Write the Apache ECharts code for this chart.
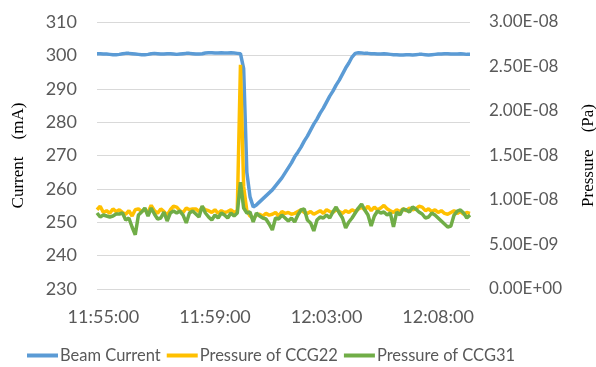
<!DOCTYPE html>
<html>
<head>
<meta charset="utf-8">
<script src="https://cdn.jsdelivr.net/npm/echarts@6/dist/echarts.min.js"></script>
<style>
  html, body { margin: 0; padding: 0; background: #fff; }
  #chart { width: 596px; height: 367px; }
</style>
</head>
<body>
<div id="chart"></div>
<script>
// X-axis tick labels and the sample index where each one sits
const timeLabels = ['11:55:00', '11:59:00', '12:03:00', '12:08:00'];
const labelIndex = [2, 37, 72, 107];

// Beam current (mA), left axis
const beamCurrent = [
  300.5, 300.5, 300.4, 300.4, 300.3, 300.2,
  300.2, 300.3, 300.5, 300.6, 300.6,
  300.5, 300.4, 300.3, 300.2, 300.2, 300.3,
  300.5, 300.6, 300.5, 300.4, 300.4, 300.5,
  300.5, 300.4, 300.3, 300.4, 300.5, 300.6, 300.6, 300.5,
  300.4, 300.4, 300.5, 300.7, 300.8, 300.8, 300.7, 300.7,
  300.8, 300.7, 300.7, 300.8, 300.7, 300.6, 300.5,
  296.0, 265.0, 257.6, 254.6,
  255.2, 256.1, 257.0, 257.9, 258.8, 259.7, 260.9, 262.1, 263.3, 264.8,
  266.3, 267.8, 269.6, 271.0, 272.5, 274.3, 275.8, 277.6, 279.4, 280.9,
  282.7, 284.2, 286.0, 287.8, 289.3, 291.1, 292.6, 294.4, 296.2, 297.7, 299.5,
  300.6,
  300.8, 300.7, 300.6, 300.6, 300.5, 300.5, 300.4, 300.4, 300.5, 300.4,
  300.3, 300.2, 300.2, 300.1, 300.1, 300.2, 300.2, 300.1, 300.2, 300.3,
  300.3, 300.2, 300.1, 300.2, 300.3, 300.4, 300.4, 300.5, 300.5, 300.4,
  300.4, 300.4, 300.5, 300.4, 300.3, 300.3
];

// Pressure of CCG22, in units of 1E-09 Pa, right axis
const ccg22 = [
  8.9, 9.3, 8.6, 8.8, 8.5, 9.0, 8.7, 8.9, 8.6, 8.4,
  8.8, 8.2, 8.9, 9.0, 8.7, 8.9, 8.6, 9.4, 8.8, 8.5,
  9.0, 8.7, 8.3, 8.9, 9.3, 9.2, 8.8, 8.6, 9.1, 8.9, 9.0,
  9.0, 8.7, 9.2, 8.9, 8.8, 8.6, 8.9, 8.5, 8.8, 8.6, 8.7, 8.9, 8.6, 8.8,
  25.2, 11.5, 8.8,
  8.2, 7.9, 8.3, 8.4, 8.2, 8.5, 8.3, 8.4, 8.6, 8.2, 8.7, 8.5,
  8.6, 8.4, 8.5, 8.7, 8.9, 8.6, 8.5, 8.7, 8.4, 8.6,
  8.8, 8.5, 8.9, 8.7, 8.6, 8.9, 8.7, 8.5, 8.8, 8.6,
  8.9, 8.7, 9.0, 9.2, 8.9, 9.3, 8.8, 9.2, 8.9, 9.1,
  9.4, 9.0, 8.8, 8.6, 8.9, 8.7, 9.0, 8.8, 9.1, 8.9,
  9.0, 9.3, 9.2, 8.8, 9.0, 8.7, 8.9, 8.6, 8.8, 8.5,
  8.4, 8.6, 8.8, 8.5, 8.7, 8.4, 8.6, 8.5
];

// Pressure of CCG31, in units of 1E-09 Pa, right axis
const ccg31 = [
  8.54, 8.09, 8.31, 8.20, 8.09, 8.20, 8.43, 8.43, 8.54, 7.75,
  7.98, 6.97, 6.10, 8.31, 8.65, 9.10, 8.20, 9.10, 8.43, 7.87,
  7.98, 8.65, 7.64, 8.54, 8.76, 8.54, 8.76, 8.31, 7.42, 8.54, 8.76,
  8.43, 8.09, 9.33, 8.54, 8.09, 7.75, 8.31, 7.98, 8.54, 8.31, 7.98, 8.54, 8.20, 8.54,
  12.0, 9.10, 8.54,
  8.65, 7.53, 8.54, 8.20, 7.98, 7.87, 7.30, 6.63, 7.98, 7.87, 8.31, 7.98,
  7.64, 7.98, 7.53, 8.31, 8.88, 8.99, 7.75, 7.42, 6.52, 7.75,
  8.09, 7.98, 8.31, 7.98, 8.65, 9.21, 8.54, 7.98, 6.85, 7.53,
  7.98, 8.54, 9.10, 9.55, 8.88, 8.31, 7.08, 8.20, 8.76, 8.54,
  8.65, 8.31, 8.54, 6.97, 8.65, 8.31, 8.99, 8.88, 8.65, 9.21,
  8.99, 8.65, 8.43, 7.98, 8.09, 8.54, 8.31, 7.98, 7.64, 7.30,
  6.97, 7.08, 8.31, 8.76, 8.88, 8.54, 7.98, 8.31
];

const categories = beamCurrent.map((_, i) => String(i));

function sci(v) {
  // v is in units of 1E-09 Pa
  if (v === 0) return '0.00E+00';
  const s = (v * 1e-9).toExponential(2).toUpperCase();
  const m = s.match(/^([\d.]+)E([+-])(\d+)$/);
  return m[1] + 'E' + m[2] + (m[3].length < 2 ? '0' + m[3] : m[3]);
}

const labelFont = { fontFamily: 'Lato', fontSize: 18, color: '#595959' };
const nameFont = { fontFamily: '"Liberation Serif", "Noto Sans CJK SC", serif', fontSize: 17, color: '#000' };

const chart = echarts.init(document.getElementById('chart'), null, { renderer: 'canvas' });
chart.setOption({
  animation: false,
  grid: { left: 97, right: 126, top: 22, bottom: 78, containLabel: false, outerBoundsMode: 'none' },
  xAxis: {
    type: 'category',
    data: categories,
    boundaryGap: false,
    axisLine: { show: false },
    axisTick: { show: false },
    splitLine: { show: false },
    axisLabel: Object.assign({
      interval: (i) => labelIndex.includes(i),
      formatter: (v, i) => { const k = labelIndex.indexOf(i); return k >= 0 ? timeLabels[k] : ''; },
      margin: 19
    }, labelFont)
  },
  yAxis: [
    {
      type: 'value', position: 'left', min: 230, max: 310, interval: 10,
      name: 'Current\u3000(mA)', nameLocation: 'middle', nameRotate: 90, nameGap: 70,
      nameTextStyle: nameFont,
      axisLine: { show: false }, axisTick: { show: false },
      splitLine: { show: true, lineStyle: { color: '#D9D9D9', width: 1 } },
      axisLabel: Object.assign({ margin: 20 }, labelFont)
    },
    {
      type: 'value', position: 'right', min: 0, max: 30, interval: 5,
      name: 'Pressure\u3000(Pa)', nameLocation: 'middle', nameRotate: 90, nameGap: 110,
      nameTextStyle: nameFont,
      axisLine: { show: false }, axisTick: { show: false },
      splitLine: { show: false },
      axisLabel: Object.assign({}, labelFont, { margin: 19, formatter: sci, fontSize: 17 })
    }
  ],
  legend: {
    left: 27, top: 347, padding: 0,
    itemWidth: 31, itemHeight: 4, itemGap: 6,
    icon: 'rect',
    textStyle: { fontFamily: 'Lato', fontSize: 16.5, color: '#595959', padding: [0, 0, 0, -3] },
    data: ['Beam Current', 'Pressure of CCG22', 'Pressure of CCG31']
  },
  series: [
    {
      name: 'Beam Current', type: 'line', yAxisIndex: 0, data: beamCurrent,
      showSymbol: false, symbol: 'none',
      lineStyle: { color: '#5B9BD5', width: 3.5 }, itemStyle: { color: '#5B9BD5' }
    },
    {
      name: 'Pressure of CCG22', type: 'line', yAxisIndex: 1, data: ccg22,
      showSymbol: false, symbol: 'none',
      lineStyle: { color: '#FFC000', width: 3.5 }, itemStyle: { color: '#FFC000' }
    },
    {
      name: 'Pressure of CCG31', type: 'line', yAxisIndex: 1, data: ccg31,
      showSymbol: false, symbol: 'none',
      lineStyle: { color: '#70AD47', width: 3.5 }, itemStyle: { color: '#70AD47' }
    }
  ]
});
</script>
</body>
</html>
